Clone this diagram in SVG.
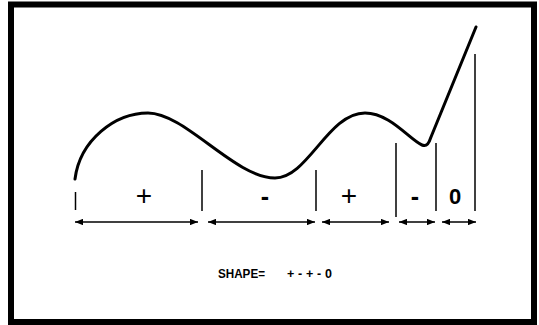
<svg xmlns="http://www.w3.org/2000/svg" width="539" height="325" viewBox="0 0 539 325">
<defs>
<style>
.frame{fill:none;stroke:#000;stroke-width:6}
.curve{fill:none;stroke:#000;stroke-width:3;stroke-linecap:round;stroke-linejoin:round}
.tick{stroke:#000;stroke-width:1.5}
.dim{stroke:#000;stroke-width:1.5;marker-start:url(#ah);marker-end:url(#ah)}
.lbl{font-family:"Liberation Sans",Arial,sans-serif;font-size:28px;text-anchor:middle;fill:#000}
.dash{font-family:"Liberation Sans",Arial,sans-serif;font-size:25px;font-weight:bold;text-anchor:middle;fill:#000}
.lblb{font-family:"Liberation Sans",Arial,sans-serif;font-size:22px;font-weight:bold;text-anchor:middle;fill:#000}
.cap{font-family:"Liberation Sans",Arial,sans-serif;font-size:12.5px;font-weight:bold;fill:#000}
</style>
<marker id="ah" viewBox="0 0 10 8" refX="10" refY="4" markerWidth="5.5" markerHeight="4.4" orient="auto-start-reverse" markerUnits="strokeWidth">
<path d="M0,0 L10,4 L0,8 Z" fill="#000"/>
</marker>
</defs>
<rect id="frame" class="frame" x="11" y="4.5" width="523" height="317.5"/>
<g id="curve">
<path class="curve" d="M75,179 C80,140 115,113 148,113 C185,113 235,178 275,178 C308,178 328,113 365,113 C390,113 410,140 422,145 C427,147 429,143 431,137 L476,27"/>
</g>
<g id="connectors">
<line class="tick" x1="75.5" y1="192" x2="75.5" y2="210"/>
<line class="tick" x1="202" y1="170" x2="202" y2="211"/>
<line class="tick" x1="316" y1="170" x2="316" y2="211"/>
<line class="tick" x1="396" y1="143" x2="396" y2="217"/>
<line class="tick" x1="436" y1="143" x2="436" y2="211"/>
<line class="tick" x1="475" y1="54" x2="475" y2="211"/>
<line class="dim" x1="75" y1="222" x2="198" y2="222"/>
<line class="dim" x1="208" y1="222" x2="315" y2="222"/>
<line class="dim" x1="322" y1="222" x2="389" y2="222"/>
<line class="dim" x1="399" y1="222" x2="435" y2="222"/>
<line class="dim" x1="442" y1="222" x2="476" y2="222"/>
</g>
<g id="labels">
<text class="lbl" x="144" y="205">+</text>
<text class="dash" x="265" y="205">-</text>
<text class="lbl" x="349" y="204.5">+</text>
<text class="dash" x="415" y="205">-</text>
<text class="lblb" x="455" y="203.5">0</text>
</g>
<g id="caption">
<text class="cap" x="218" y="277.5" textLength="47" lengthAdjust="spacingAndGlyphs">SHAPE=</text>
<text class="cap" x="287" y="277.5" xml:space="preserve" textLength="45" lengthAdjust="spacing">+ - + - 0</text>
</g>
</svg>
